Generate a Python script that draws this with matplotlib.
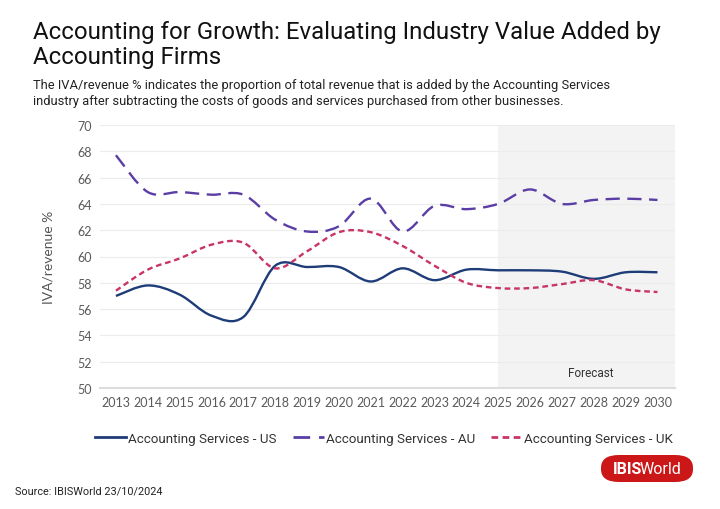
import numpy as np
import matplotlib
matplotlib.use("Agg")
import matplotlib.pyplot as plt
from matplotlib.path import Path
from matplotlib.patches import PathPatch, FancyBboxPatch
from matplotlib.lines import Line2D

# data
years = list(range(2013, 2031))
us = [57.0, 57.8, 57.1, 55.5, 55.4, 59.3, 59.2, 59.2, 58.1, 59.1,
      58.2, 59.0, 58.95, 58.95, 58.85, 58.3, 58.8, 58.8]
au = [67.7, 64.9, 64.9, 64.7, 64.7, 62.8, 61.9, 62.3, 64.4, 61.9,
      63.85, 63.6, 64.0, 65.1, 64.0, 64.3, 64.4, 64.3]
uk = [57.4, 59.0, 59.85, 60.9, 61.05, 59.1, 60.4, 61.85, 61.85, 60.8,
      59.3, 58.0, 57.6, 57.6, 57.9, 58.2, 57.5, 57.3]
series_names = ["Accounting Services - US", "Accounting Services - AU", "Accounting Services - UK"]
forecast_start = 2025

colors = ["#1d3c78", "#5a3ea5", "#c93467"]
dashes = [None, (0, (6, 3.2)), (0, (2.4, 1.6))]


def smooth_path(x, y):
    # catmull-rom -> cubic bezier segments
    pts = np.column_stack([x, y]).astype(float)
    ext = np.vstack([pts[0], pts, pts[-1]])
    verts = [pts[0]]
    codes = [Path.MOVETO]
    for i in range(1, len(ext) - 2):
        p0, p1, p2, p3 = ext[i - 1], ext[i], ext[i + 1], ext[i + 2]
        verts += [p1 + (p2 - p0) / 6, p2 - (p3 - p1) / 6, p2]
        codes += [Path.CURVE4] * 3
    return Path(verts, codes)


fig = plt.figure(figsize=(7.2, 5.1), dpi=100)
ax = fig.add_axes([100 / 720, 1 - 389 / 510, 575 / 720, 263 / 510])

ax.axvspan(forecast_start, 2030.55, color="#f3f3f4", zorder=0, lw=0)
ax.text(2027.9, 50.7, "Forecast", ha="center", va="bottom", fontsize=8.5,
        color="#333333", family="Roboto")

for vals, c, d in zip([us, au, uk], colors, dashes):
    patch = PathPatch(smooth_path(years, vals), fill=False, edgecolor=c, lw=1.7,
                      capstyle="butt", joinstyle="round", zorder=3)
    if d is not None:
        patch.set_linestyle(d)
    ax.add_patch(patch)

ax.set_xlim(2012.5, 2030.55)
ax.set_ylim(50, 70)
ax.set_xticks(years)
ax.set_yticks(range(50, 71, 2))
ax.grid(axis="y", color="#ececec", lw=0.8)
ax.set_axisbelow(True)
for s in ["top", "right", "left"]:
    ax.spines[s].set_visible(False)
ax.spines["bottom"].set_color("#dddddd")
ax.spines["bottom"].set_linewidth(1.5)
ax.tick_params(length=0, labelsize=9, labelcolor="#5a5a5a", pad=6)
for lab in ax.get_xticklabels() + ax.get_yticklabels():
    lab.set_family("Lato")
ax.set_ylabel("IVA/revenue %", fontsize=10, color="#555555", family="Lato", labelpad=16)

# legend
handles = [Line2D([], [], color=c, lw=2, ls=(d if d else "-")) for c, d in zip(colors, dashes)]
fig.legend(handles, series_names, loc="center", bbox_to_anchor=(384 / 720, 1 - 439 / 510),
           ncol=3, frameon=False, handlelength=2.3, handletextpad=0.15,
           columnspacing=1.25, prop={"family": "Roboto", "size": 9.6}, labelcolor="#333333")

# titles
fig.text(33 / 720, 1 - 21 / 510, "Accounting for Growth: Evaluating Industry Value Added by\nAccounting Firms",
         ha="left", va="top", fontsize=17.3, family="Roboto", color="#111111",
         linespacing=1.1)
fig.text(33 / 720, 1 - 94 / 510,
         "The IVA/revenue % indicates the proportion of total revenue that is added by the Accounting Services\n"
         "industry after subtracting the costs of goods and services purchased from other businesses.",
         ha="left", va="center", fontsize=9.25, family="Roboto", color="#222222", linespacing=1.3)

# logo + source
logo = FancyBboxPatch((601 / 720, 1 - 483 / 510), 92 / 720, 27 / 510,
                      boxstyle="round,pad=0,rounding_size=0.025", transform=fig.transFigure,
                      facecolor="#cc1719", edgecolor="none")
fig.patches.append(logo)
t1 = fig.text(613 / 720, 1 - 470 / 510, "IBIS", ha="left", va="center", fontsize=11.5,
              family="Roboto", weight="bold", color="white")
fig.canvas.draw()
bb = t1.get_window_extent()
fig.text((bb.x1 - 2.5) / 720, 1 - 470 / 510, "World", ha="left", va="center", fontsize=11.5,
         family="Roboto", color="white")
fig.text(15 / 720, 1 - 492 / 510, "Source: IBISWorld 23/10/2024", ha="left", va="center",
         fontsize=7.8, family="Roboto", color="#222222")

fig.savefig("out.png", dpi=100, facecolor="white")
